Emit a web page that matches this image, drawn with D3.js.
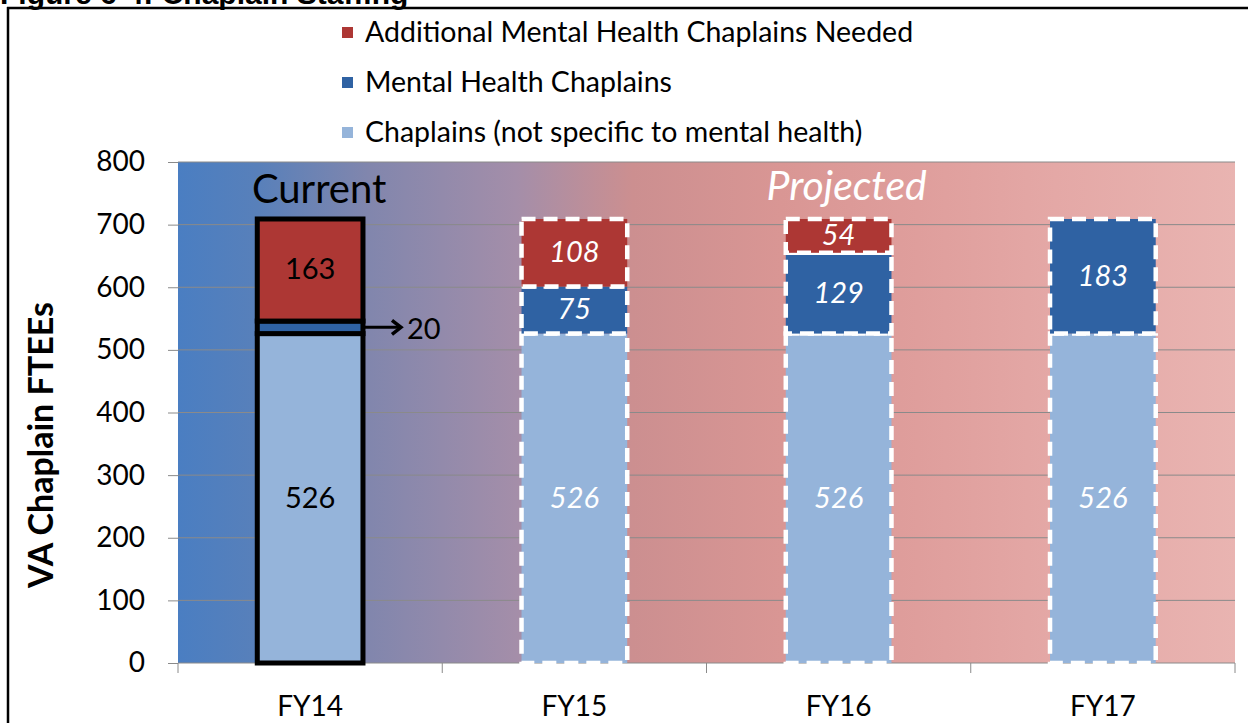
<!DOCTYPE html>
<html>
<head>
<meta charset="utf-8">
<script src="https://cdn.jsdelivr.net/npm/d3@7"></script>
<style>
  html, body { margin: 0; padding: 0; background: #ffffff; }
  svg { display: block; }
</style>
</head>
<body>
<svg id="chart" width="1248" height="723"></svg>
<script>
// ---- data ----
const categories = ["FY14", "FY15", "FY16", "FY17"];
const chaplains = [526, 526, 526, 526];          // Chaplains (not specific to mental health)
const mentalHealth = [20, 75, 129, 183];         // Mental Health Chaplains
const additionalNeeded = [163, 108, 54, 0];      // Additional Mental Health Chaplains Needed
const yTicks = [0, 100, 200, 300, 400, 500, 600, 700, 800];
const seriesNames = ["Chaplains (not specific to mental health)", "Mental Health Chaplains", "Additional Mental Health Chaplains Needed"];
const seriesKeys = ["chaplains", "mentalHealth", "additionalNeeded"];
const currentCategory = "FY14";

// ---- styles ----
const colors = { chaplains: "#95b4da", mentalHealth: "#2f62a3", additionalNeeded: "#ad3734" };
const font = "Lato, 'Open Sans', sans-serif";

const svg = d3.select("#chart");
const W = 1248, H = 723;
const plot = { left: 178, right: 1235, top: 162, bottom: 663 };

const table = categories.map((c, i) => ({
  category: c,
  chaplains: chaplains[i],
  mentalHealth: mentalHealth[i],
  additionalNeeded: additionalNeeded[i]
}));

const x = d3.scaleBand().domain(categories).range([plot.left, plot.right]).paddingInner(0.6).paddingOuter(0.3);
const y = d3.scaleLinear().domain([0, 800]).range([plot.bottom, plot.top]);

// ---- frame + cut-off figure title ----
svg.append("text").attr("x", 0).attr("y", 4)
  .attr("font-family", "'Liberation Sans', Arial, sans-serif").attr("font-weight", "bold")
  .attr("font-size", 30).attr("fill", "#000").text("Figure 6-4: Chaplain Staffing");
svg.append("line").attr("x1", 7).attr("x2", W).attr("y1", 8).attr("y2", 8).attr("stroke", "#000").attr("stroke-width", 2.5);
svg.append("line").attr("x1", 8).attr("x2", 8).attr("y1", 7).attr("y2", H).attr("stroke", "#000").attr("stroke-width", 2.5);

// ---- gradient background ----
const defs = svg.append("defs");
const grad = defs.append("linearGradient").attr("id", "bg").attr("x1", "0%").attr("x2", "100%").attr("y1", "0%").attr("y2", "0%");
[[0, "#4a7ec2"], [0.075, "#5880ba"], [0.18, "#8186ad"], [0.32, "#a48ea9"], [0.43, "#cc8f90"],
 [0.57, "#d99694"], [0.70, "#df9e9c"], [0.83, "#e4a8a6"], [1, "#e9b4b1"]]
  .forEach(([o, c]) => grad.append("stop").attr("offset", o).attr("stop-color", c));
svg.append("rect").attr("x", plot.left).attr("y", plot.top)
  .attr("width", plot.right - plot.left).attr("height", plot.bottom - plot.top)
  .attr("fill", "url(#bg)");

// ---- gridlines ----
svg.append("g").selectAll("line").data(yTicks.filter(t => t > 0)).join("line")
  .attr("x1", plot.left).attr("x2", plot.right)
  .attr("y1", d => y(d)).attr("y2", d => y(d))
  .attr("stroke", "#8a8a8a").attr("stroke-width", 1);

// ---- y axis ----
const yAxis = svg.append("g").attr("transform", `translate(${plot.left},0)`)
  .call(d3.axisLeft(y).tickValues(yTicks).tickSize(10).tickPadding(23).tickFormat(d3.format("d")));
yAxis.select(".domain").remove();
yAxis.selectAll(".tick line").attr("stroke", "#8a8a8a");
yAxis.selectAll(".tick text").attr("font-family", font).attr("font-size", 28).attr("fill", "#000");

// ---- x axis ----
const boundaries = [plot.left, ...categories.map(c => x(c) + x.bandwidth() / 2 + x.step() / 2)];
const xAxisG = svg.append("g").attr("transform", `translate(0,${plot.bottom})`)
  .call(d3.axisBottom(x).tickSize(0).tickPadding(33));
xAxisG.select(".domain").attr("stroke", "#8a8a8a").attr("d", `M${plot.left},0H${plot.right}`);
xAxisG.selectAll(".tick text").attr("font-family", font).attr("font-size", 28).attr("fill", "#000");
xAxisG.selectAll("line.bound").data(boundaries).join("line").attr("class", "bound")
  .attr("x1", d => d).attr("x2", d => d).attr("y1", 0).attr("y2", 10).attr("stroke", "#8a8a8a");

// ---- y axis title ----
svg.append("text")
  .attr("transform", `translate(53,445) rotate(-90)`)
  .attr("text-anchor", "middle").attr("font-family", font).attr("font-weight", "bold")
  .attr("font-size", 34).attr("fill", "#000").text("VA Chaplain FTEEs");

// ---- bars ----
const stacked = d3.stack().keys(seriesKeys)(table);
const barsG = svg.append("g");
stacked.forEach((layer, li) => {
  const key = seriesKeys[li];
  layer.forEach((seg, i) => {
    const val = seg[1] - seg[0];
    if (val <= 0) return;
    const cat = categories[i];
    const isCurrent = cat === currentCategory;
    barsG.append("rect")
      .attr("x", x(cat)).attr("width", x.bandwidth())
      .attr("y", y(seg[1])).attr("height", y(seg[0]) - y(seg[1]))
      .attr("fill", colors[key])
      .attr("stroke", isCurrent ? "#000" : "#fff")
      .attr("stroke-width", isCurrent ? 5 : 4.5)
      .attr("stroke-dasharray", isCurrent ? null : "14,8");
  });
});

// ---- value labels ----
stacked.forEach((layer, li) => {
  layer.forEach((seg, i) => {
    const val = seg[1] - seg[0];
    const cat = categories[i];
    const isCurrent = cat === currentCategory;
    if (val <= 0) return;
    if (isCurrent && val < 40) {
      // arrow callout for small segment
      const yy = y((seg[0] + seg[1]) / 2);
      const x0 = x(cat) + x.bandwidth() + 2;
      svg.append("line").attr("x1", x0).attr("x2", x0 + 34).attr("y1", yy).attr("y2", yy)
        .attr("stroke", "#000").attr("stroke-width", 3);
      svg.append("path").attr("d", `M${x0 + 27},${yy - 7}L${x0 + 36},${yy}L${x0 + 27},${yy + 7}`)
        .attr("fill", "none").attr("stroke", "#000").attr("stroke-width", 3.5);
      svg.append("text").attr("x", x0 + 42).attr("y", yy + 4).attr("dominant-baseline", "middle")
        .attr("font-family", font).attr("font-size", 29).attr("fill", "#000").text(val);
      return;
    }
    svg.append("text")
      .attr("x", x(cat) + x.bandwidth() / 2)
      .attr("y", y((seg[0] + seg[1]) / 2) + 2)
      .attr("text-anchor", "middle").attr("dominant-baseline", "middle")
      .attr("font-family", font).attr("font-size", 29)
      .attr("font-style", isCurrent ? "normal" : "italic")
      .attr("fill", isCurrent ? "#000" : "#fff")
      .text(val);
  });
});

// ---- annotations ----
svg.append("text").attr("x", x("FY14") + x.bandwidth() / 2 + 9).attr("y", 203)
  .attr("text-anchor", "middle").attr("font-family", font).attr("font-size", 40).attr("fill", "#000")
  .text("Current");
svg.append("text").attr("x", x("FY16") + x.bandwidth() / 2 + 8).attr("y", 200)
  .attr("text-anchor", "middle").attr("font-family", font).attr("font-style", "italic")
  .attr("font-size", 41).attr("fill", "#fff").text("Projected");

// ---- legend ----
const legendOrder = [2, 1, 0];
const legend = svg.append("g");
legendOrder.forEach((si, r) => {
  const cy = 32 + r * 50;
  legend.append("rect").attr("x", 342).attr("y", cy - 5).attr("width", 11).attr("height", 11)
    .attr("fill", colors[seriesKeys[si]]);
  legend.append("text").attr("x", 365).attr("y", cy + 10)
    .attr("font-family", font).attr("font-size", 28.5).attr("fill", "#000")
    .text(seriesNames[si]);
});
</script>
</body>
</html>
